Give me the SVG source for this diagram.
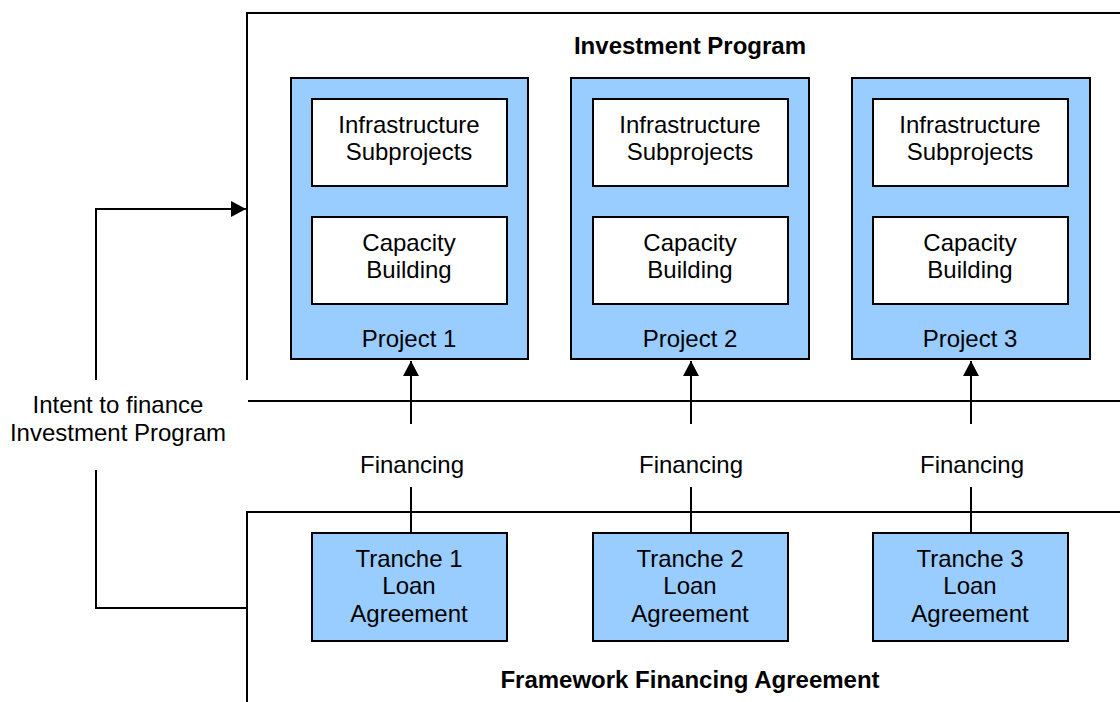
<svg xmlns="http://www.w3.org/2000/svg" width="1120" height="702" viewBox="0 0 1120 702">
<style>
.t{font-family:"Liberation Sans",Arial,sans-serif;font-size:24px;fill:#000;text-anchor:middle}
.b{font-weight:bold;font-size:24px}
.proj{fill:#99CCFF;stroke:#000;stroke-width:2}
.inner{fill:#fff;stroke:#000;stroke-width:2}
.ln{fill:none;stroke:#000;stroke-width:2}
</style>
<defs>
<marker id="ah" markerWidth="15" markerHeight="16" refX="15" refY="8" orient="auto" markerUnits="userSpaceOnUse">
<path d="M0,0 L15,8 L0,16 Z" fill="#000"/>
</marker>
</defs>
<rect width="1120" height="702" fill="#fff"/>
<g id="investment-program">
<path class="ln" d="M247,380 V13 H1122"/>
<path class="ln" d="M248,401 H1122"/>
<text class="t b" x="690" y="54">Investment Program</text>
</g>
<g id="framework-agreement">
<path class="ln" d="M247,704 V512 H1122"/>
<text class="t b" x="690" y="688">Framework Financing Agreement</text>
</g>
<g id="project1">
<rect class="proj" x="291" y="78" width="237" height="281"/>
<rect class="inner" x="312" y="99" width="195" height="87"/>
<text class="t" x="409" y="133">Infrastructure</text>
<text class="t" x="409" y="160">Subprojects</text>
<rect class="inner" x="312" y="217" width="195" height="87"/>
<text class="t" x="409" y="251">Capacity</text>
<text class="t" x="409" y="278">Building</text>
<text class="t" x="409" y="347">Project 1</text>
</g>
<g id="project2">
<rect class="proj" x="571" y="78" width="238" height="281"/>
<rect class="inner" x="593" y="99" width="195" height="87"/>
<text class="t" x="690" y="133">Infrastructure</text>
<text class="t" x="690" y="160">Subprojects</text>
<rect class="inner" x="593" y="217" width="195" height="87"/>
<text class="t" x="690" y="251">Capacity</text>
<text class="t" x="690" y="278">Building</text>
<text class="t" x="690" y="347">Project 2</text>
</g>
<g id="project3">
<rect class="proj" x="852" y="78" width="238" height="281"/>
<rect class="inner" x="873" y="99" width="195" height="87"/>
<text class="t" x="970" y="133">Infrastructure</text>
<text class="t" x="970" y="160">Subprojects</text>
<rect class="inner" x="873" y="217" width="195" height="87"/>
<text class="t" x="970" y="251">Capacity</text>
<text class="t" x="970" y="278">Building</text>
<text class="t" x="970" y="347">Project 3</text>
</g>
<g id="tranche1">
<rect class="proj" x="312" y="533" width="195" height="108"/>
<text class="t" x="409" y="567">Tranche 1</text>
<text class="t" x="409" y="594">Loan</text>
<text class="t" x="409" y="622">Agreement</text>
</g>
<g id="tranche2">
<rect class="proj" x="593" y="533" width="195" height="108"/>
<text class="t" x="690" y="567">Tranche 2</text>
<text class="t" x="690" y="594">Loan</text>
<text class="t" x="690" y="622">Agreement</text>
</g>
<g id="tranche3">
<rect class="proj" x="873" y="533" width="195" height="108"/>
<text class="t" x="970" y="567">Tranche 3</text>
<text class="t" x="970" y="594">Loan</text>
<text class="t" x="970" y="622">Agreement</text>
</g>
<g id="connectors">
<path class="ln" d="M411,424 V361" marker-end="url(#ah)"/>
<path class="ln" d="M411,487 V533"/>
<text class="t" x="412" y="473">Financing</text>
<path class="ln" d="M691,424 V361" marker-end="url(#ah)"/>
<path class="ln" d="M691,487 V533"/>
<text class="t" x="691" y="473">Financing</text>
<path class="ln" d="M971,424 V361" marker-end="url(#ah)"/>
<path class="ln" d="M971,487 V533"/>
<text class="t" x="972" y="473">Financing</text>
<path class="ln" d="M96,380 V209 H246" marker-end="url(#ah)"/>
<path class="ln" d="M247,608 H96 V470"/>
<text class="t" x="118" y="413">Intent to finance</text>
<text class="t" x="118" y="441">Investment Program</text>
</g>
</svg>
